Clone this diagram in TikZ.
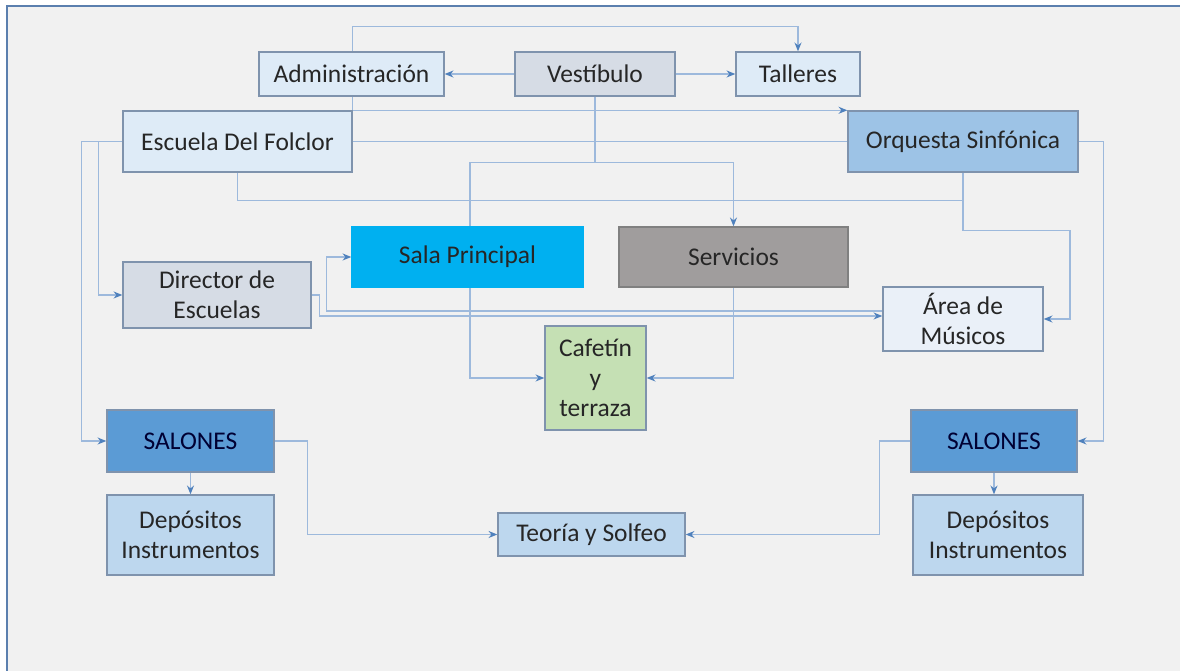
\documentclass[tikz,border=0pt]{standalone}
\usepackage{fontspec}
\setmainfont{Carlito}
\usetikzlibrary{arrows.meta,backgrounds}

\definecolor{panel}{HTML}{F1F1F1}
\definecolor{frameblue}{HTML}{5B7FAE}
\definecolor{boxline}{HTML}{7F93AD}
\definecolor{wire}{HTML}{9DB9DC}
\definecolor{tipblue}{HTML}{4F81BD}
\definecolor{txt}{HTML}{262626}
\definecolor{paleblue}{HTML}{DEEBF7}
\definecolor{grayblue}{HTML}{D6DCE5}
\definecolor{midblue}{HTML}{9DC3E6}
\definecolor{cyanbox}{HTML}{00B0F0}
\definecolor{graybox}{HTML}{A09D9D}
\definecolor{verypale}{HTML}{EAF0F8}
\definecolor{greenbox}{HTML}{C5E0B4}
\definecolor{strongblue}{HTML}{5B9BD5}
\definecolor{softblue}{HTML}{BDD7EE}

\begin{document}
\begin{tikzpicture}[x=0.02cm,y=-0.02cm,
    box/.style={draw=boxline,line width=0.8pt,rectangle,inner sep=0pt,align=center,
                text=txt,font=\fontsize{14.5}{17}\selectfont},
    link/.style={draw=wire,line width=0.6pt},
    arr/.style={link,-{Stealth[length=5pt,width=4pt,color=tipblue]}}]
			\useasboundingbox (0,0) rectangle (1180,671);

			\node[box,fill=paleblue,minimum width=3.7cm,minimum height=0.88cm] (adm) at (351.5,74) {Administración};
			\node[box,fill=grayblue,minimum width=3.2cm,minimum height=0.88cm] (vest) at (595,74) {Vestíbulo};
			\node[box,fill=paleblue,minimum width=2.48cm,minimum height=0.88cm] (tall) at (798,74) {Talleres};
			\node[box,fill=paleblue,minimum width=4.58cm,minimum height=1.22cm] (esc) at (237.5,141.5) {Escuela Del Folclor};
			\node[box,fill=midblue,minimum width=4.6cm,minimum height=1.22cm] (orq) at (963,141.5) {Orquesta Sinfónica};
			\node[box,draw=cyanbox,fill=cyanbox,minimum width=4.62cm,minimum height=1.2cm] (sala) at (467.5,257) {Sala Principal};
			\node[box,draw=gray,fill=graybox,minimum width=4.58cm,minimum height=1.2cm] (serv) at (733.5,257) {Servicios};
			\node[box,fill=grayblue,minimum width=3.76cm,minimum height=1.32cm] (dir) at (217,295) {Director de\\Escuelas};
			\node[box,fill=verypale,minimum width=3.2cm,minimum height=1.28cm] (area) at (963,319) {Área de\\Músicos};
			\node[box,fill=greenbox,minimum width=2.02cm,minimum height=2.08cm] (cafe) at (595.5,378) {Cafetín\\y\\terraza};
			\node[box,fill=strongblue,text=black!80!blue,minimum width=3.34cm,minimum height=1.24cm] (salL) at (190.5,441) {SALONES};
			\node[box,fill=strongblue,text=black!80!blue,minimum width=3.32cm,minimum height=1.24cm] (salR) at (994,441) {SALONES};
			\node[box,fill=softblue,minimum width=3.34cm,minimum height=1.6cm] (depL) at (190.5,535) {Depósitos\\Instrumentos};
			\node[box,fill=softblue,minimum width=3.4cm,minimum height=1.6cm] (depR) at (998,535) {Depósitos\\Instrumentos};
			\node[box,fill=softblue,minimum width=3.74cm,minimum height=0.86cm] (teo) at (591.5,534.5) {Teoría y Solfeo};

			\begin{scope}[on background layer]
			\fill[white] (0,0) rectangle (1180,671);
			\fill[panel] (7,6) rectangle (1180,671);
			\draw[frameblue,line width=1.2pt] (7,671) -- (7,6) -- (1180,6);

			\def\straight {vest.west/adm.east, vest.east/tall.west, esc.north east/orq.north west, salL.south/depL.north}  % plain arrows
			\foreach \u/\v in \straight
			{	\draw[arr] (\u) -- (\v);}

			\draw[link] (esc.east) -- (orq.west);
			\draw[arr] (salR.south) -- (salR.south |- depR.north);

			\draw[arr] (esc.north east) -- ++(0,-84) -| (tall.north);
			\draw[arr] (vest.south) -- ++(0,66) -| (serv.north);
			\draw[arr] (vest.south) -- ++(0,66) -- ++(-125,0) |- (cafe.west);
			\draw[arr] (serv.south) |- (cafe.east);

			\draw[link] (esc.south) -- ++(0,28) -| (orq.south);
			\draw[arr] (orq.south) -- ++(0,58) -- ++(107,0) |- (area.east);

			\draw[arr] (esc.west) -- ++(-41,0) |- (salL.west);
			\draw[arr] (esc.west) -- ++(-24,0) |- (dir.west);
			\draw[arr] (orq.east) -- ++(25,0) |- (salR.east);

			\draw[arr] (dir.east) -- ++(8,0) |- ([yshift=0.06cm]area.west);
			\draw[arr] ([yshift=0.16cm]area.west) -| ([xshift=-0.5cm]sala.west) -- (sala.west);

			\draw[arr] (salL.east) -- ++(33,0) |- (teo.west);
			\draw[arr] (salR.west) -- ++(-31,0) |- (teo.east);
			\end{scope}
		\end{tikzpicture}
\end{document}
